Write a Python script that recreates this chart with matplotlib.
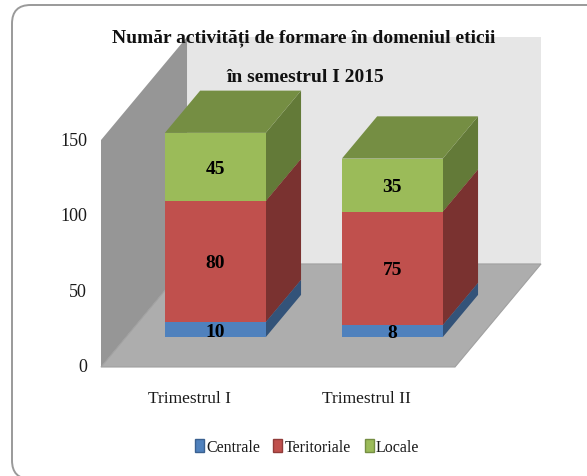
import matplotlib
matplotlib.use('Agg')
import matplotlib.pyplot as plt
from matplotlib.patches import Polygon, FancyBboxPatch, Patch

categories = ['Trimestrul I', 'Trimestrul II']
series_names = ['Centrale', 'Teritoriale', 'Locale']
centrale = [10, 8]
teritoriale = [80, 75]
locale = [45, 35]
y_ticks = [0, 50, 100, 150]

# front, top, side colours for each series
front_colors = ['#4f81bd', '#c0504d', '#9bbb59']
top_colors = ['#3b6190', '#913c3a', '#758e43']
side_colors = ['#335379', '#7a3230', '#637a38']

W, H = 587, 477
PX_X, PX_Y = 177, 1.513  # pixels per x unit / per value
fig = plt.figure(figsize=(W / 100, H / 100), dpi=100)
plt.rcParams['font.family'] = ['Liberation Serif', 'DejaVu Sans']
ax = fig.add_axes([0, 0, 1, 1])

# origin of the floor at pixel (101, 368)
ax.set_xlim(-101 / PX_X, (W - 101) / PX_X)
ax.set_ylim(-(H - 368) / PX_Y, 368 / PX_Y)
ax.axis('off')

# depth vector of the 3d box
DX, DY = 0.486, 68.1


def proj(x, y, d):
    return (x + d * DX, y + d * DY)


def face(pts, color, z, edge='none'):
    ax.add_patch(Polygon(pts, closed=True, facecolor=color, edgecolor=edge,
                         linewidth=0.8, zorder=z))


# frame, right and bottom sides fall outside the picture
ax.add_patch(FancyBboxPatch(((12 - 101) / PX_X, (368 - 480) / PX_Y), 640 / PX_X, 474 / PX_Y,
                            boxstyle='round,pad=0,rounding_size=0.105', mutation_aspect=PX_X / PX_Y,
                            facecolor='white', edgecolor='#9a9a9a', linewidth=1.4, zorder=0))

top = y_ticks[-1]
# walls and floor
face([proj(0, 0, 1), proj(2, 0, 1), proj(2, top, 1), proj(0, top, 1)], '#e6e6e6', 1)
face([proj(0, 0, 0), proj(0, 0, 1), proj(0, top, 1), proj(0, top, 0)], '#969696', 1)
face([proj(0, 0, 0), proj(2, 0, 0), proj(2, 0, 1), proj(0, 0, 1)], '#adadad', 2, '#a0a0a0')

# stacked boxes
bar_w = 0.57
d0, d1 = 0.29, 0.70
for i, name in enumerate(categories):
    x0 = i + 0.22
    x1 = x0 + bar_w
    base = 0
    for s, vals in enumerate([centrale, teritoriale, locale]):
        v = vals[i]
        y0, y1 = base, base + v
        z = 3 + s
        face([proj(x1, y0, d0), proj(x1, y0, d1), proj(x1, y1, d1), proj(x1, y1, d0)], side_colors[s], z)
        face([proj(x0, y1, d0), proj(x1, y1, d0), proj(x1, y1, d1), proj(x0, y1, d1)], top_colors[s], z)
        face([proj(x0, y0, d0), proj(x1, y0, d0), proj(x1, y1, d0), proj(x0, y1, d0)], front_colors[s], z)
        lx, ly = proj((x0 + x1) / 2, (y0 + y1) / 2, d0)
        ax.text(lx, ly - 1, str(v), ha='center', va='center', fontsize=14, fontweight='bold',
                color='black', zorder=10)
        base = y1
    ax.text(i + 0.5, -20.5, name, ha='center', va='center', fontsize=12.5, color='#1a1a1a', zorder=10)

for t in y_ticks:
    ax.text(-14 / PX_X, t, str(t), ha='right', va='center', fontsize=13, color='#1a1a1a', zorder=10)

fig.text(304 / W, 1 - 38 / H, 'Număr activități de formare în domeniul eticii', ha='center', va='center',
         fontsize=14, fontweight='bold', color='#111111', zorder=12)
fig.text(305 / W, 1 - 77 / H, 'în semestrul I 2015', ha='center', va='center',
         fontsize=14, fontweight='bold', color='#111111', zorder=12)

handles = [Patch(facecolor=front_colors[s], edgecolor=top_colors[s], label=series_names[s]) for s in range(3)]
leg = ax.legend(handles=handles, ncol=3, loc='center', bbox_to_anchor=(307 / W, 1 - 448 / H), frameon=False,
                fontsize=11.5, handlelength=0.56, handleheight=0.8, handletextpad=0.15, columnspacing=0.85,
                labelcolor='#1a1a1a')
leg.set_zorder(12)

fig.savefig('out.png', dpi=100)
